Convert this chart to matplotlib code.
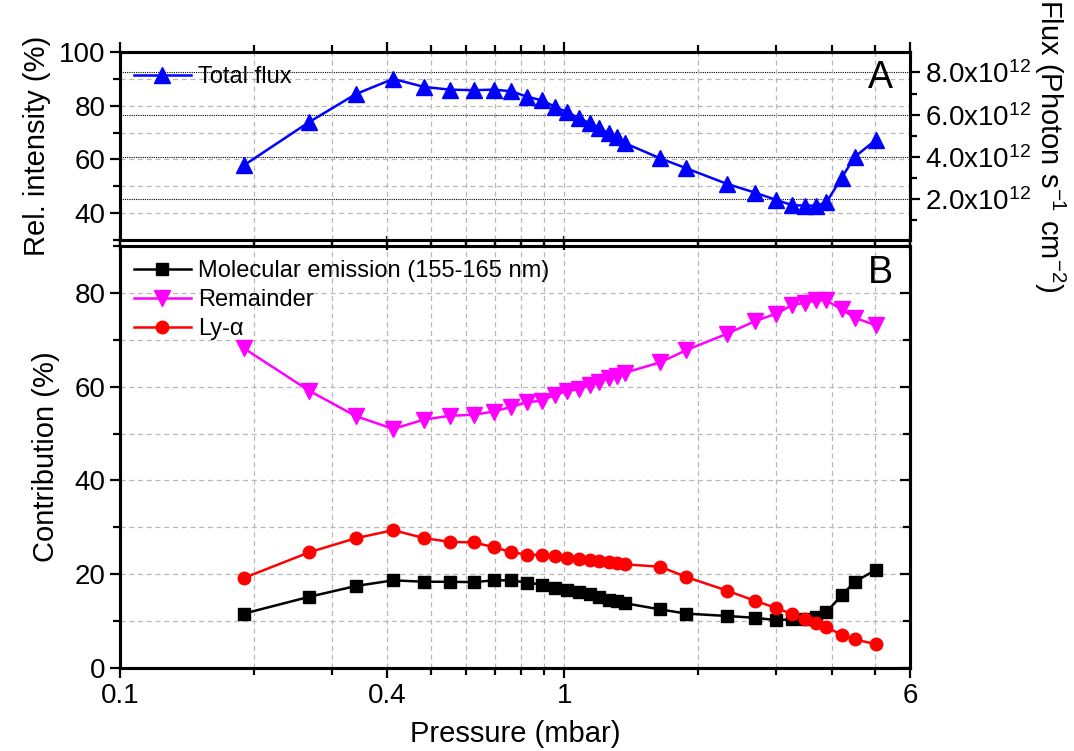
import matplotlib
matplotlib.use("Agg")
import matplotlib.pyplot as plt
from matplotlib.ticker import FixedLocator, MultipleLocator, NullFormatter

plt.rcParams["font.family"] = ["Liberation Sans", "DejaVu Sans"]
plt.rcParams["mathtext.fontset"] = "custom"
plt.rcParams["mathtext.rm"] = "Liberation Sans"
plt.rcParams["mathtext.it"] = "Liberation Sans:italic"

# pressure (mbar)
pressure = [0.19, 0.267, 0.34, 0.412, 0.484, 0.553, 0.625, 0.693, 0.76, 0.824,
            0.891, 0.954, 1.014, 1.077, 1.14, 1.199, 1.258, 1.314, 1.372,
            1.645, 1.883, 2.325, 2.693, 3.003, 3.257, 3.477, 3.695, 3.89,
            4.21, 4.508, 5.02]

# panel A: relative intensity of total flux (%)
total_flux = [57.8, 74.0, 84.4, 90.0, 87.0, 86.0, 85.8, 86.0, 85.4, 83.4,
              82.0, 79.6, 77.6, 75.5, 73.5, 71.8, 69.7, 68.2, 66.0,
              60.4, 56.7, 50.9, 47.6, 44.9, 43.0, 42.8, 42.8, 44.0,
              53.2, 61.0, 67.2]

# panel B: contributions (%)
molecular = [11.6, 15.2, 17.5, 18.7, 18.4, 18.4, 18.3, 18.7, 18.7, 18.2,
             17.8, 17.1, 16.6, 16.2, 15.7, 15.2, 14.6, 14.3, 13.8,
             12.5, 11.6, 11.1, 10.7, 10.2, 10.4, 10.4, 10.9, 11.9,
             15.5, 18.4, 20.9]
remainder = [68.2, 59.1, 53.7, 51.0, 53.0, 53.8, 54.0, 54.7, 55.7, 56.7,
             57.0, 58.3, 59.0, 59.5, 60.4, 60.9, 61.8, 62.3, 63.0,
             65.2, 67.8, 71.3, 74.0, 75.6, 77.4, 77.9, 78.4, 78.4,
             76.5, 74.7, 73.1]
ly_alpha = [19.2, 24.7, 27.7, 29.4, 27.7, 26.9, 26.8, 25.8, 24.7, 24.2,
            24.1, 23.8, 23.5, 23.2, 23.0, 22.8, 22.6, 22.3, 22.1,
            21.6, 19.4, 16.5, 14.3, 12.8, 11.5, 10.4, 9.5, 8.8,
            7.0, 6.1, 5.1]

x_major = [0.1, 0.4, 1, 6]
x_minor = [0.2, 0.3, 0.5, 0.6, 0.7, 0.8, 0.9, 2, 3, 4, 5]
x_labels = ["0.1", "0.4", "1", "6"]
flux_ticks = [2e12, 4e12, 6e12, 8e12]
flux_labels = [r"2.0x10$^{12}$", r"4.0x10$^{12}$", r"6.0x10$^{12}$",
               r"8.0x10$^{12}$"]

TICK_FS = 20
LABEL_FS = 21
LEGEND_FS = 17
GRID = dict(color="#b8b8b8", linestyle=(0, (4, 3)), linewidth=0.9)


def style_x(ax, labels=True):
    ax.set_xscale("log")
    ax.set_xlim(0.1, 6)
    ax.xaxis.set_major_locator(FixedLocator(x_major))
    ax.xaxis.set_minor_locator(FixedLocator(x_minor))
    ax.xaxis.set_minor_formatter(NullFormatter())
    if labels:
        ax.set_xticklabels(x_labels)
    else:
        ax.xaxis.set_major_formatter(NullFormatter())
    ax.tick_params(axis="x", which="both", direction="out", top=True,
                   width=1.6, labelsize=TICK_FS)
    ax.tick_params(axis="x", which="major", length=7)
    ax.tick_params(axis="x", which="minor", length=5)


def style_frame(ax):
    for sp in ax.spines.values():
        sp.set_linewidth(2.2)


fig = plt.figure(figsize=(10.74, 7.51), dpi=100)
ax_a = fig.add_axes([0.1117, 0.6804, 0.7356, 0.2503])
ax_b = fig.add_axes([0.1117, 0.1105, 0.7356, 0.5619])

# ---- panel A ----
ax_f = ax_a.twinx()
ax_a.set_zorder(ax_f.get_zorder() + 1)
ax_a.patch.set_visible(False)

ax_a.plot(pressure, total_flux, color="#0000ff", marker="^", markersize=11,
          linewidth=1.8, label="Total flux", zorder=5)
style_x(ax_a, labels=False)
ax_a.set_ylim(30, 100)
ax_a.yaxis.set_major_locator(MultipleLocator(20))
ax_a.yaxis.set_minor_locator(MultipleLocator(10))
ax_a.tick_params(axis="y", which="both", direction="out", width=1.6,
                 labelsize=TICK_FS)
ax_a.tick_params(axis="y", which="major", length=7)
ax_a.tick_params(axis="y", which="minor", length=5)
ax_a.set_ylabel("Rel. intensity (%)", fontsize=LABEL_FS, labelpad=6)
ax_a.grid(True, which="both", axis="both", **GRID)
ax_a.legend(loc="upper left", frameon=False, fontsize=LEGEND_FS,
            handlelength=2.4, borderaxespad=0.2, handletextpad=0.3)
ax_a.text(0.962, 0.86, "A", transform=ax_a.transAxes, fontsize=27,
          ha="center", va="center")

ax_f.set_ylim(0.077e12, 8.96e12)
ax_f.set_yticks(flux_ticks)
ax_f.set_yticklabels(flux_labels)
ax_f.yaxis.set_minor_locator(MultipleLocator(1e12))
ax_f.tick_params(axis="y", which="both", direction="out", width=1.6,
                 labelsize=TICK_FS)
ax_f.tick_params(axis="y", which="major", length=7)
ax_f.tick_params(axis="y", which="minor", length=5)
ax_f.grid(True, axis="y", which="major", color="black",
          linestyle=(0, (1, 1)), linewidth=0.8)
ax_f.set_ylabel(r"Flux (Photon s$^{-1}$ cm$^{-2}$)", fontsize=LABEL_FS,
                rotation=270, labelpad=26)
style_frame(ax_a)
style_frame(ax_f)

# ---- panel B ----
ax_b.plot(pressure, molecular, color="black", marker="s", markersize=8,
          linewidth=1.8, label="Molecular emission (155-165 nm)", zorder=5)
ax_b.plot(pressure, remainder, color="#ff00ff", marker="v", markersize=11,
          linewidth=1.8, label="Remainder", zorder=5)
ax_b.plot(pressure, ly_alpha, color="#ff0000", marker="o", markersize=9,
          linewidth=1.8, label="Ly-α", zorder=5)
style_x(ax_b)
ax_b.set_ylim(0, 90)
ax_b.yaxis.set_major_locator(MultipleLocator(20))
ax_b.yaxis.set_minor_locator(MultipleLocator(10))
ax_b.tick_params(axis="y", which="both", direction="out", width=1.6,
                 labelsize=TICK_FS)
ax_b.tick_params(axis="y", which="major", length=7)
ax_b.tick_params(axis="y", which="minor", length=5)
ax_b.grid(True, which="both", axis="both", **GRID)
ax_b.set_xlabel("Pressure (mbar)", fontsize=LABEL_FS, labelpad=8)
ax_b.set_ylabel("Contribution (%)", fontsize=LABEL_FS, labelpad=10)
ax_b.legend(loc="upper left", frameon=False, fontsize=LEGEND_FS,
            handlelength=2.4, borderaxespad=0.2, handletextpad=0.3,
            labelspacing=0.3)
ax_b.text(0.962, 0.935, "B", transform=ax_b.transAxes, fontsize=27,
          ha="center", va="center")

# inward ticks on the right side of panel B
ax_r = ax_b.twinx()
ax_r.set_ylim(0, 90)
ax_r.yaxis.set_major_locator(MultipleLocator(20))
ax_r.yaxis.set_minor_locator(MultipleLocator(10))
ax_r.tick_params(axis="y", which="both", direction="in", width=1.6,
                 labelright=False)
ax_r.tick_params(axis="y", which="major", length=7)
ax_r.tick_params(axis="y", which="minor", length=5)
style_frame(ax_b)
style_frame(ax_r)

fig.savefig("out.png", dpi=100)
